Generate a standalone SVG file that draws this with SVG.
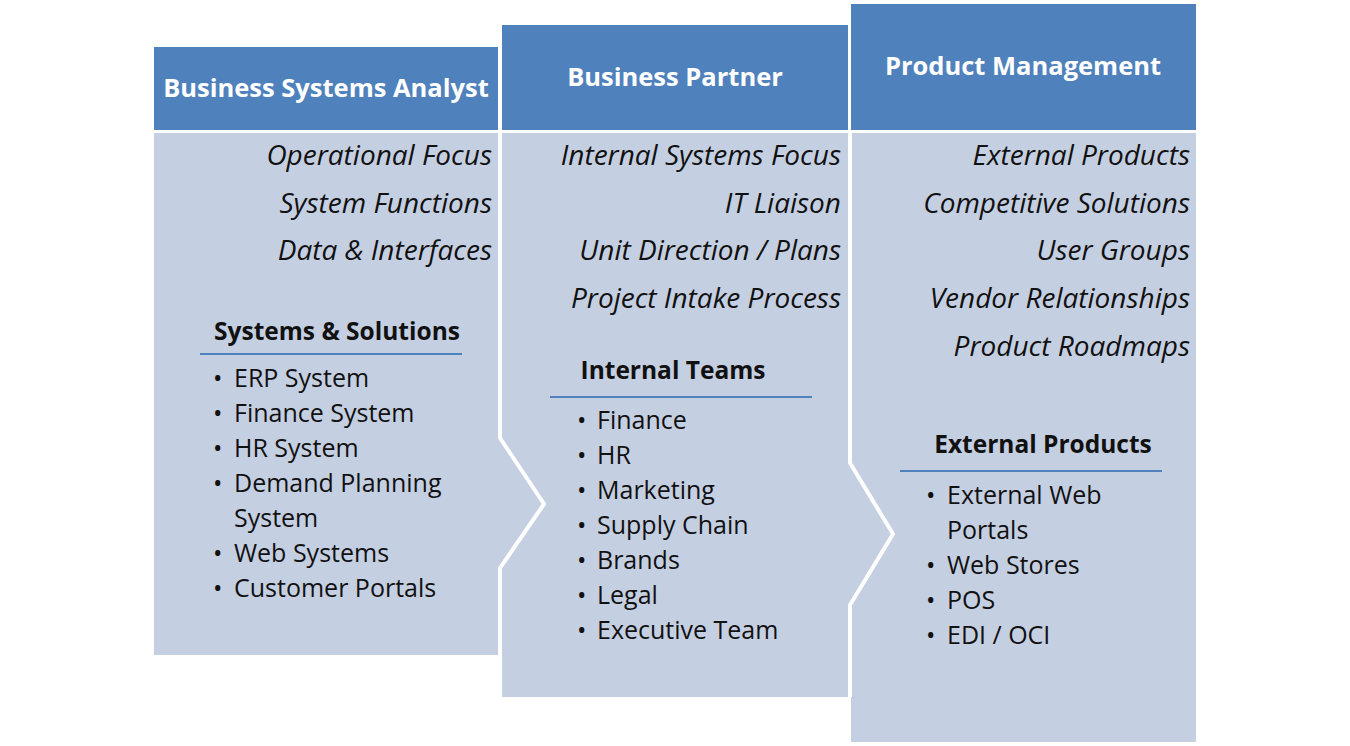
<svg xmlns="http://www.w3.org/2000/svg" width="1350" height="746" viewBox="0 0 1350 746">
<style>
.hdr{fill:#4F81BD}
.body{fill:#C5CFE2}
.sep{fill:none;stroke:#FFFFFF;stroke-width:4}
.ht{font-family:"Open Sans","Liberation Sans",sans-serif;font-weight:bold;font-size:25.5px;fill:#FFFFFF;text-anchor:middle}
.it{font-family:"Open Sans","Liberation Sans",sans-serif;font-style:italic;font-size:28px;fill:#111111;text-anchor:end}
.sh{font-family:"Open Sans","Liberation Sans",sans-serif;font-weight:bold;font-size:24.5px;fill:#111111;text-anchor:middle}
.bl{font-family:"Open Sans","Liberation Sans",sans-serif;font-size:25px;fill:#111111}
.ul{stroke:#4F81BD;stroke-width:2}
</style>
<rect width="1350" height="746" fill="#FFFFFF"/>
<g id="col3">
<rect class="hdr" x="851" y="4" width="345" height="126"/>
<rect class="body" x="851" y="133" width="345" height="609"/>
</g>
<g id="col2">
<rect class="hdr" x="502" y="25" width="346" height="105"/>
<polygon class="body" points="502,133 850,133 850,463 893,534 850,605 850,697 502,697"/>
<polyline class="sep" points="850,133 850,463 893,534 850,605 850,697"/>
</g>
<g id="col1">
<rect class="hdr" x="154" y="47" width="344" height="83"/>
<polygon class="body" points="154,133 500,133 500,438 544,504 500,568 500,655 154,655"/>
<polyline class="sep" points="500,133 500,438 544,504 500,568 500,655"/>
</g>
<g id="col1-text">
<text class="ht" x="326" y="97">Business Systems Analyst</text>
<text class="it" x="492" y="165">Operational Focus</text>
<text class="it" x="492" y="213">System Functions</text>
<text class="it" x="492" y="260">Data &amp; Interfaces</text>
<text class="sh" x="337" y="340">Systems &amp; Solutions</text>
<line class="ul" x1="200" y1="354" x2="462" y2="354"/>
<g class="bl">
<text x="213" y="387">•</text><text x="234" y="387">ERP System</text>
<text x="213" y="422">•</text><text x="234" y="422">Finance System</text>
<text x="213" y="457">•</text><text x="234" y="457">HR System</text>
<text x="213" y="492">•</text><text x="234" y="492">Demand Planning</text>
<text x="234" y="527">System</text>
<text x="213" y="562">•</text><text x="234" y="562">Web Systems</text>
<text x="213" y="597">•</text><text x="234" y="597">Customer Portals</text>
</g>
</g>
<g id="col2-text">
<text class="ht" x="675" y="86">Business Partner</text>
<text class="it" x="841" y="165">Internal Systems Focus</text>
<text class="it" x="841" y="213">IT Liaison</text>
<text class="it" x="841" y="260">Unit Direction / Plans</text>
<text class="it" x="841" y="308">Project Intake Process</text>
<text class="sh" x="673" y="379">Internal Teams</text>
<line class="ul" x1="550" y1="397" x2="812" y2="397"/>
<g class="bl">
<text x="577" y="429">•</text><text x="597" y="429">Finance</text>
<text x="577" y="464">•</text><text x="597" y="464">HR</text>
<text x="577" y="499">•</text><text x="597" y="499">Marketing</text>
<text x="577" y="534">•</text><text x="597" y="534">Supply Chain</text>
<text x="577" y="569">•</text><text x="597" y="569">Brands</text>
<text x="577" y="604">•</text><text x="597" y="604">Legal</text>
<text x="577" y="639">•</text><text x="597" y="639">Executive Team</text>
</g>
</g>
<g id="col3-text">
<text class="ht" x="1023" y="75">Product Management</text>
<text class="it" x="1190" y="165">External Products</text>
<text class="it" x="1190" y="213">Competitive Solutions</text>
<text class="it" x="1190" y="260">User Groups</text>
<text class="it" x="1190" y="308">Vendor Relationships</text>
<text class="it" x="1190" y="356">Product Roadmaps</text>
<text class="sh" x="1043" y="453">External Products</text>
<line class="ul" x1="900" y1="471" x2="1162" y2="471"/>
<g class="bl">
<text x="926" y="504">•</text><text x="947" y="504">External Web</text>
<text x="947" y="539">Portals</text>
<text x="926" y="574">•</text><text x="947" y="574">Web Stores</text>
<text x="926" y="609">•</text><text x="947" y="609">POS</text>
<text x="926" y="644">•</text><text x="947" y="644">EDI / OCI</text>
</g>
</g>
</svg>
